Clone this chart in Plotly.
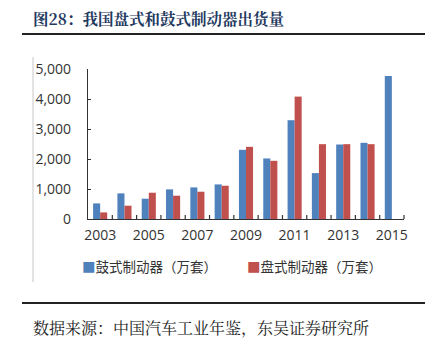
import plotly.graph_objects as go

years = [str(y) for y in range(2003, 2016)]
drum = [520, 854, 676, 987, 1053, 1153, 2306, 2018, 3293, 1530, 2483, 2539, 4767]
disc = [220, 443, 876, 776, 909, 1109, 2406, 1940, 4080, 2494, 2494, 2494, None]
tick_years = ["2003", "2005", "2007", "2009", "2011", "2013", "2015"]
y_ticks = [0, 1000, 2000, 3000, 4000, 5000]
y_tick_text = ["0", "1,000", "2,000", "3,000", "4,000", "5,000"]
drum_name = "鼓式制动器（万套）"
disc_name = "盘式制动器（万套）"
title_text = "图28：我国盘式和鼓式制动器出货量"
source_text = "数据来源：中国汽车工业年鉴，东吴证券研究所"

W, H = 435, 341
L, R, T, B = 88, 404, 69, 219
BLUE = "#4F81BD"
RED = "#C0504D"

def px(x):
    return (x - L) / (R - L)

def py(y):
    return (B - y) / (B - T)

fig = go.Figure()
fig.add_trace(go.Bar(x=years, y=drum, name=drum_name, marker_color=BLUE,
                     marker_line_width=0, showlegend=False))
fig.add_trace(go.Bar(x=years, y=disc, name=disc_name, marker_color=RED,
                     marker_line_width=0, showlegend=False))

fig.update_layout(
    width=W, height=H,
    margin=dict(l=L, r=W - R, t=T, b=H - B, pad=0),
    paper_bgcolor="white", plot_bgcolor="white",
    barmode="group", bargap=0.42, bargroupgap=0,
    font=dict(family="Open Sans, Noto Sans CJK SC", size=14, color="#333333"),
    xaxis=dict(
        type="category", tickmode="array", tickvals=tick_years, ticktext=tick_years,
        showline=True, linecolor="#333333", linewidth=1.2,
        ticks="", showgrid=False, tickfont=dict(size=14, color="#333333"),
        ticklabelstandoff=3,
    ),
    yaxis=dict(
        range=[0, 5000], tickvals=y_ticks, ticktext=y_tick_text,
        showline=True, linecolor="#333333", linewidth=1.2,
        ticks="inside", ticklen=3, tickcolor="#333333",
        showgrid=False, zeroline=False, tickfont=dict(size=14, color="#333333"),
        ticklabelstandoff=13,
    ),
)

shapes = []
n = len(years)
for i in range(1, n + 1):
    xb = i / n
    shapes.append(dict(type="line", xref="paper", yref="paper", x0=xb, x1=xb,
                       y0=0, y1=4 / (B - T), line=dict(color="#333333", width=1.2)))
shapes.append(dict(type="line", xref="paper", yref="paper", x0=px(22), x1=px(425),
                   y0=py(34), y1=py(34), line=dict(color="#222222", width=2)))
shapes.append(dict(type="line", xref="paper", yref="paper", x0=px(33), x1=px(33),
                   y0=py(57), y1=py(282), line=dict(color="#C8C8C8", width=1)))
shapes.append(dict(type="line", xref="paper", yref="paper", x0=px(22), x1=px(425),
                   y0=py(303), y1=py(303), line=dict(color="#222222", width=2)))
fig.update_layout(shapes=shapes)

ann = []
ann.append(dict(text="<b>" + title_text + "</b>", xref="paper", yref="paper",
                x=px(31), y=py(18), xanchor="left", yanchor="middle", showarrow=False,
                font=dict(family="Noto Serif CJK SC, Noto Sans CJK SC", size=15.5, color="#1F3A5F")))
ann.append(dict(text=f'<span style="color:{BLUE}">■</span>' + drum_name,
                xref="paper", yref="paper", x=px(80), y=py(266), xanchor="left",
                yanchor="middle", showarrow=False,
                font=dict(family="Noto Sans CJK SC", size=13.5, color="#333333")))
ann.append(dict(text=f'<span style="color:{RED}">■</span>' + disc_name,
                xref="paper", yref="paper", x=px(245), y=py(266), xanchor="left",
                yanchor="middle", showarrow=False,
                font=dict(family="Noto Sans CJK SC", size=13.5, color="#333333")))
ann.append(dict(text=source_text, xref="paper", yref="paper",
                x=px(31), y=py(341), xanchor="left", yanchor="bottom", showarrow=False,
                font=dict(family="Noto Serif CJK SC, Noto Sans CJK SC", size=16, color="#222222")))
fig.update_layout(annotations=ann)

fig.write_html("out.html")
